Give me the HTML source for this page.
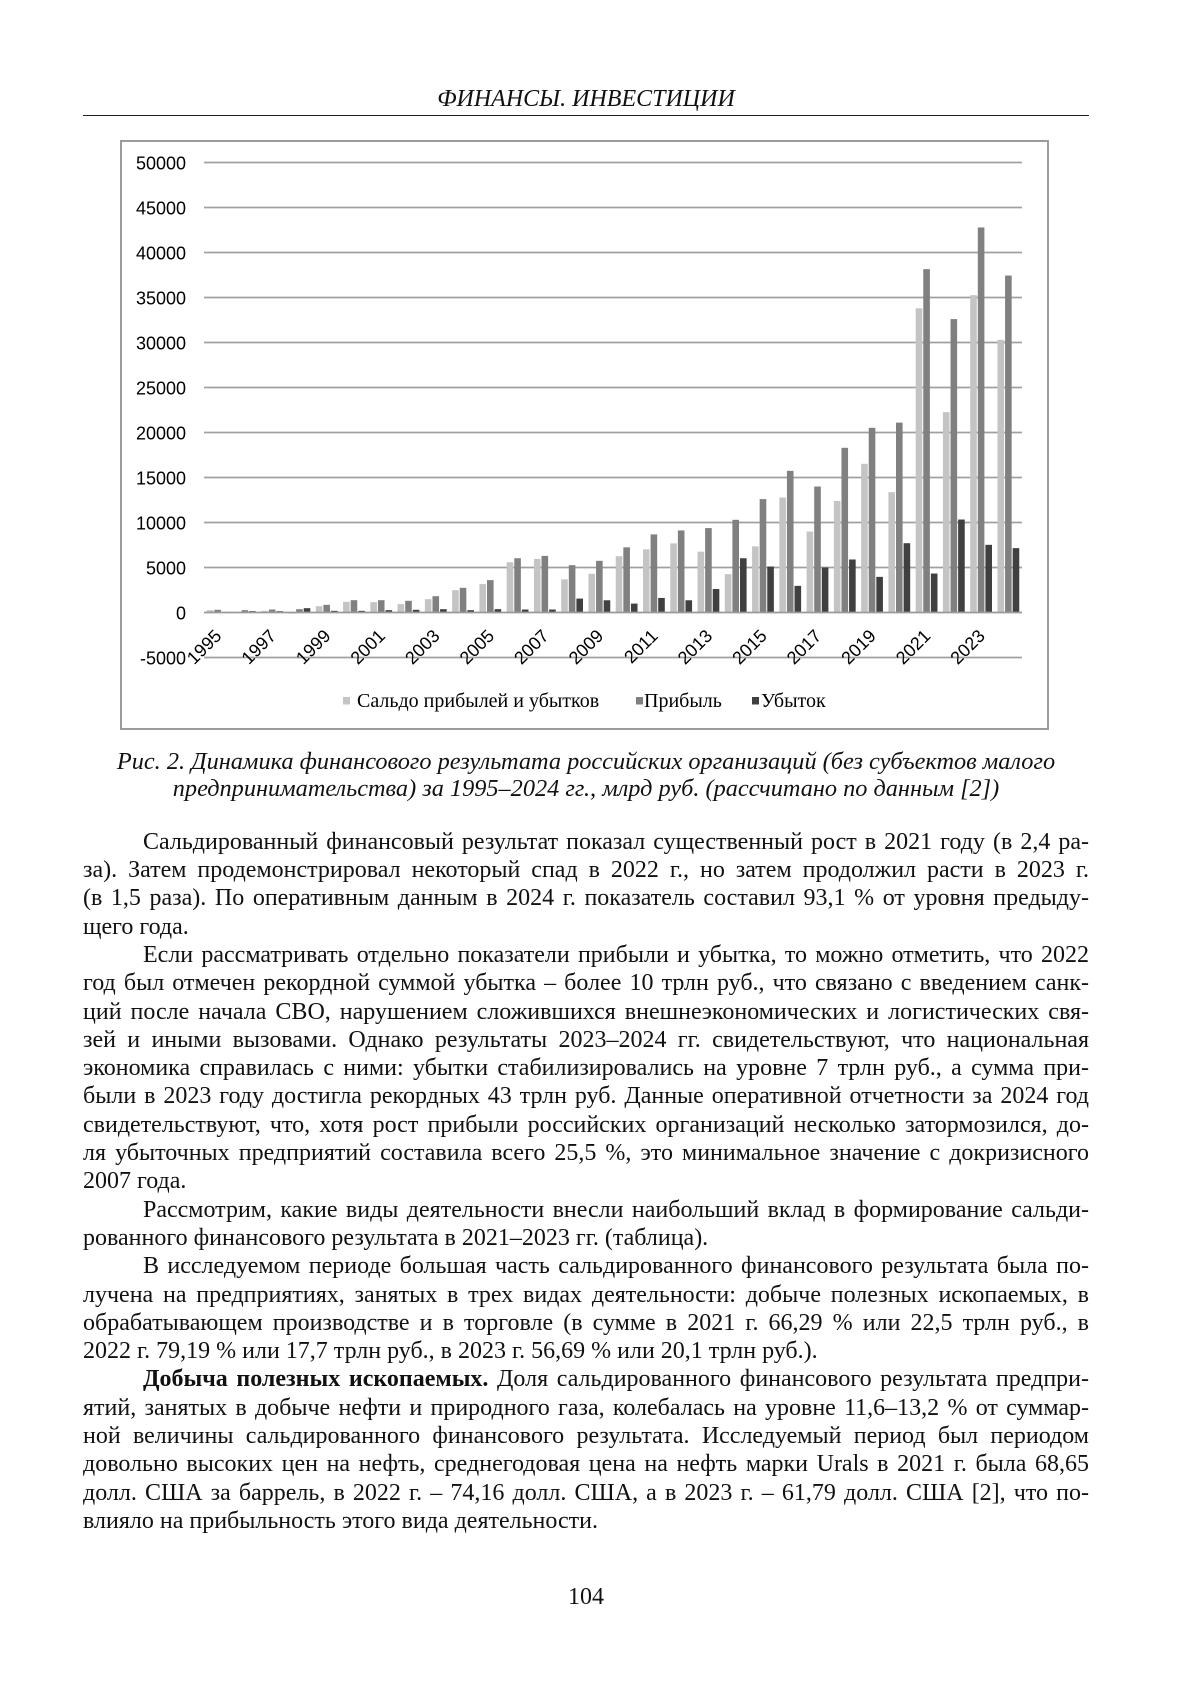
<!DOCTYPE html>
<html><head><meta charset="utf-8">
<style>
html,body{margin:0;padding:0;background:#fff;}
body{width:1200px;height:1698px;position:relative;overflow:hidden;font-family:"Liberation Serif","DejaVu Serif",serif;color:#111;}
.abs{position:absolute;}
#hdr{left:83px;width:1006px;top:84.75px;font-size:24px;line-height:28.3px;font-style:italic;text-align:center;white-space:nowrap;}
#hline{left:83px;top:114.5px;width:1006px;height:1.6px;background:#222;}
#cap{left:83px;width:1006px;top:748.2px;font-size:24.3px;line-height:27px;font-style:italic;text-align:center;white-space:nowrap;}
#body{left:83px;width:1006px;top:827.75px;font-size:24px;line-height:28.3px;}
#body div{text-align:justify;text-align-last:justify;}
#body div.l{text-align:left;text-align-last:left;}
#body div.i{text-indent:60px;}
#pg{left:83px;width:1006px;top:1582.75px;font-size:24px;line-height:28.3px;text-align:center;}
svg{position:absolute;left:0;top:0;}
</style></head><body>
<div id="hdr" class="abs">ФИНАНСЫ. ИНВЕСТИЦИИ</div>
<div id="hline" class="abs"></div>

<svg width="1200" height="760" viewBox="0 0 1200 760">
<rect x="121" y="141" width="927" height="588" fill="#fff" stroke="#9c9c9c" stroke-width="2"/>
<g stroke="#a0a0a0" stroke-width="1.7">
<line x1="204" y1="162.5" x2="1022" y2="162.5"/>
<line x1="204" y1="207.5" x2="1022" y2="207.5"/>
<line x1="204" y1="252.5" x2="1022" y2="252.5"/>
<line x1="204" y1="297.5" x2="1022" y2="297.5"/>
<line x1="204" y1="342.5" x2="1022" y2="342.5"/>
<line x1="204" y1="387.5" x2="1022" y2="387.5"/>
<line x1="204" y1="432.5" x2="1022" y2="432.5"/>
<line x1="204" y1="477.5" x2="1022" y2="477.5"/>
<line x1="204" y1="522.5" x2="1022" y2="522.5"/>
<line x1="204" y1="567.5" x2="1022" y2="567.5"/>
<line x1="204" y1="657.5" x2="1022" y2="657.5"/>
</g>
<g font-family="Liberation Sans, Arial, sans-serif" font-size="18" fill="#000" text-anchor="end">
<text x="186" y="169.5">50000</text>
<text x="186" y="214.5">45000</text>
<text x="186" y="259.5">40000</text>
<text x="186" y="304.5">35000</text>
<text x="186" y="349.5">30000</text>
<text x="186" y="394.5">25000</text>
<text x="186" y="439.5">20000</text>
<text x="186" y="484.5">15000</text>
<text x="186" y="529.5">10000</text>
<text x="186" y="574.5">5000</text>
<text x="186" y="619.5">0</text>
<text x="186" y="664.5">-5000</text>
</g>
<g fill="#c4c4c4">
<rect x="206.73" y="610.16" width="6.6" height="2.34"/>
<rect x="234.0" y="611.87" width="6.6" height="0.63"/>
<rect x="261.27" y="610.88" width="6.6" height="1.62"/>
<rect x="288.53" y="612.5" width="6.6" height="1.17"/>
<rect x="315.8" y="606.2" width="6.6" height="6.3"/>
<rect x="343.07" y="601.83" width="6.6" height="10.67"/>
<rect x="370.33" y="602.15" width="6.6" height="10.35"/>
<rect x="397.6" y="604.13" width="6.6" height="8.37"/>
<rect x="424.87" y="599.18" width="6.6" height="13.32"/>
<rect x="452.13" y="590.18" width="6.6" height="22.32"/>
<rect x="479.4" y="584.06" width="6.6" height="28.44"/>
<rect x="506.67" y="562.19" width="6.6" height="50.31"/>
<rect x="533.93" y="558.86" width="6.6" height="53.64"/>
<rect x="561.2" y="579.38" width="6.6" height="33.12"/>
<rect x="588.47" y="573.8" width="6.6" height="38.7"/>
<rect x="615.73" y="556.25" width="6.6" height="56.25"/>
<rect x="643.0" y="549.32" width="6.6" height="63.18"/>
<rect x="670.27" y="543.38" width="6.6" height="69.12"/>
<rect x="697.53" y="551.66" width="6.6" height="60.84"/>
<rect x="724.8" y="574.16" width="6.6" height="38.34"/>
<rect x="752.07" y="546.35" width="6.6" height="66.15"/>
<rect x="779.33" y="497.48" width="6.6" height="115.02"/>
<rect x="806.6" y="531.5" width="6.6" height="81"/>
<rect x="833.87" y="500.9" width="6.6" height="111.6"/>
<rect x="861.13" y="463.82" width="6.6" height="148.68"/>
<rect x="888.4" y="492.17" width="6.6" height="120.33"/>
<rect x="915.67" y="308.3" width="6.6" height="304.2"/>
<rect x="942.93" y="412.16" width="6.6" height="200.34"/>
<rect x="970.2" y="295.16" width="6.6" height="317.34"/>
<rect x="997.47" y="339.8" width="6.6" height="272.7"/>
</g>
<g fill="#808080">
<rect x="214.33" y="609.8" width="6.6" height="2.7"/>
<rect x="241.6" y="610.16" width="6.6" height="2.34"/>
<rect x="268.87" y="609.53" width="6.6" height="2.97"/>
<rect x="296.13" y="609.17" width="6.6" height="3.33"/>
<rect x="323.4" y="604.85" width="6.6" height="7.65"/>
<rect x="350.67" y="600.17" width="6.6" height="12.33"/>
<rect x="377.93" y="600.17" width="6.6" height="12.33"/>
<rect x="405.2" y="600.8" width="6.6" height="11.7"/>
<rect x="432.47" y="596.21" width="6.6" height="16.29"/>
<rect x="459.73" y="587.84" width="6.6" height="24.66"/>
<rect x="487.0" y="580.1" width="6.6" height="32.4"/>
<rect x="514.27" y="558.23" width="6.6" height="54.27"/>
<rect x="541.53" y="555.89" width="6.6" height="56.61"/>
<rect x="568.8" y="565.16" width="6.6" height="47.34"/>
<rect x="596.07" y="560.84" width="6.6" height="51.66"/>
<rect x="623.33" y="547.34" width="6.6" height="65.16"/>
<rect x="650.6" y="534.38" width="6.6" height="78.12"/>
<rect x="677.87" y="530.42" width="6.6" height="82.08"/>
<rect x="705.13" y="528.08" width="6.6" height="84.42"/>
<rect x="732.4" y="519.8" width="6.6" height="92.7"/>
<rect x="759.67" y="499.1" width="6.6" height="113.4"/>
<rect x="786.93" y="470.84" width="6.6" height="141.66"/>
<rect x="814.2" y="486.5" width="6.6" height="126"/>
<rect x="841.47" y="447.8" width="6.6" height="164.7"/>
<rect x="868.73" y="427.82" width="6.6" height="184.68"/>
<rect x="896.0" y="422.6" width="6.6" height="189.9"/>
<rect x="923.27" y="269.15" width="6.6" height="343.35"/>
<rect x="950.53" y="319.1" width="6.6" height="293.4"/>
<rect x="977.8" y="227.48" width="6.6" height="385.02"/>
<rect x="1005.07" y="275.54" width="6.6" height="336.96"/>
</g>
<g fill="#404040">
<rect x="221.93" y="612.05" width="6.6" height="0.45"/>
<rect x="249.2" y="611.15" width="6.6" height="1.35"/>
<rect x="276.47" y="611.15" width="6.6" height="1.35"/>
<rect x="303.73" y="608.18" width="6.6" height="4.32"/>
<rect x="331.0" y="610.83" width="6.6" height="1.67"/>
<rect x="358.27" y="610.83" width="6.6" height="1.67"/>
<rect x="385.53" y="610.16" width="6.6" height="2.34"/>
<rect x="412.8" y="609.8" width="6.6" height="2.7"/>
<rect x="440.07" y="609.17" width="6.6" height="3.33"/>
<rect x="467.33" y="610.16" width="6.6" height="2.34"/>
<rect x="494.6" y="609.17" width="6.6" height="3.33"/>
<rect x="521.87" y="609.53" width="6.6" height="2.97"/>
<rect x="549.13" y="609.53" width="6.6" height="2.97"/>
<rect x="576.4" y="598.6" width="6.6" height="13.9"/>
<rect x="603.67" y="600.26" width="6.6" height="12.24"/>
<rect x="630.93" y="603.59" width="6.6" height="8.91"/>
<rect x="658.2" y="597.92" width="6.6" height="14.58"/>
<rect x="685.47" y="600.26" width="6.6" height="12.24"/>
<rect x="712.73" y="589.01" width="6.6" height="23.49"/>
<rect x="740.0" y="558.23" width="6.6" height="54.27"/>
<rect x="767.27" y="566.51" width="6.6" height="45.99"/>
<rect x="794.53" y="585.86" width="6.6" height="26.64"/>
<rect x="821.8" y="567.5" width="6.6" height="45"/>
<rect x="849.07" y="559.49" width="6.6" height="53.01"/>
<rect x="876.33" y="576.86" width="6.6" height="35.64"/>
<rect x="903.6" y="543.2" width="6.6" height="69.3"/>
<rect x="930.87" y="573.53" width="6.6" height="38.97"/>
<rect x="958.13" y="519.53" width="6.6" height="92.97"/>
<rect x="985.4" y="544.82" width="6.6" height="67.68"/>
<rect x="1012.67" y="548.15" width="6.6" height="64.35"/>
</g>
<line x1="204" y1="612.5" x2="1022" y2="612.5" stroke="#9a9a9a" stroke-width="1.8"/>
<g font-family="Liberation Sans, Arial, sans-serif" font-size="18" fill="#000" text-anchor="end">
<text transform="translate(222.6,637) rotate(-45)">1995</text>
<text transform="translate(277.2,637) rotate(-45)">1997</text>
<text transform="translate(331.7,637) rotate(-45)">1999</text>
<text transform="translate(386.2,637) rotate(-45)">2001</text>
<text transform="translate(440.8,637) rotate(-45)">2003</text>
<text transform="translate(495.3,637) rotate(-45)">2005</text>
<text transform="translate(549.8,637) rotate(-45)">2007</text>
<text transform="translate(604.4,637) rotate(-45)">2009</text>
<text transform="translate(658.9,637) rotate(-45)">2011</text>
<text transform="translate(713.4,637) rotate(-45)">2013</text>
<text transform="translate(768,637) rotate(-45)">2015</text>
<text transform="translate(822.5,637) rotate(-45)">2017</text>
<text transform="translate(877,637) rotate(-45)">2019</text>
<text transform="translate(931.6,637) rotate(-45)">2021</text>
<text transform="translate(986.1,637) rotate(-45)">2023</text>
</g>
<rect x="343" y="697" width="7" height="7.5" fill="#c4c4c4"/>
<rect x="636" y="697" width="7" height="7.5" fill="#808080"/>
<rect x="752" y="697" width="7" height="7.5" fill="#404040"/>
<g font-family="Liberation Serif, Times New Roman, serif" font-size="20" fill="#000">
<text x="357" y="707">Сальдо прибылей и убытков</text>
<text x="644" y="707">Прибыль</text>
<text x="761" y="707">Убыток</text>
</g>
</svg>

<div id="cap" class="abs">Рис. 2. Динамика финансового результата российских организаций (без субъектов малого<br>предпринимательства) за 1995–2024 гг., млрд руб. (рассчитано по данным [2])</div>

<div id="body" class="abs">
<div class="i">Сальдированный финансовый результат показал существенный рост в 2021 году (в 2,4 ра-</div>
<div>за). Затем продемонстрировал некоторый спад в 2022 г., но затем продолжил расти в 2023 г.</div>
<div>(в 1,5 раза). По оперативным данным в 2024 г. показатель составил 93,1 % от уровня предыду-</div>
<div class="l">щего года.</div>
<div class="i">Если рассматривать отдельно показатели прибыли и убытка, то можно отметить, что 2022</div>
<div>год был отмечен рекордной суммой убытка – более 10 трлн руб., что связано с введением санк-</div>
<div>ций после начала СВО, нарушением сложившихся внешнеэкономических и логистических свя-</div>
<div>зей и иными вызовами. Однако результаты 2023–2024 гг. свидетельствуют, что национальная</div>
<div>экономика справилась с ними: убытки стабилизировались на уровне 7 трлн руб., а сумма при-</div>
<div>были в 2023 году достигла рекордных 43 трлн руб. Данные оперативной отчетности за 2024 год</div>
<div>свидетельствуют, что, хотя рост прибыли российских организаций несколько затормозился, до-</div>
<div>ля убыточных предприятий составила всего 25,5 %, это минимальное значение с докризисного</div>
<div class="l">2007 года.</div>
<div class="i">Рассмотрим, какие виды деятельности внесли наибольший вклад в формирование сальди-</div>
<div class="l">рованного финансового результата в 2021–2023 гг. (таблица).</div>
<div class="i">В исследуемом периоде большая часть сальдированного финансового результата была по-</div>
<div>лучена на предприятиях, занятых в трех видах деятельности: добыче полезных ископаемых, в</div>
<div>обрабатывающем производстве и в торговле (в сумме в 2021 г. 66,29 % или 22,5 трлн руб., в</div>
<div class="l">2022 г. 79,19 % или 17,7 трлн руб., в 2023 г. 56,69 % или 20,1 трлн руб.).</div>
<div class="i"><b>Добыча полезных ископаемых.</b> Доля сальдированного финансового результата предпри-</div>
<div>ятий, занятых в добыче нефти и природного газа, колебалась на уровне 11,6–13,2 % от суммар-</div>
<div>ной величины сальдированного финансового результата. Исследуемый период был периодом</div>
<div>довольно высоких цен на нефть, среднегодовая цена на нефть марки Urals в 2021 г. была 68,65</div>
<div>долл. США за баррель, в 2022 г. – 74,16 долл. США, а в 2023 г. – 61,79 долл. США [2], что по-</div>
<div class="l">влияло на прибыльность этого вида деятельности.</div>
</div>

<div id="pg" class="abs">104</div>
</body></html>
